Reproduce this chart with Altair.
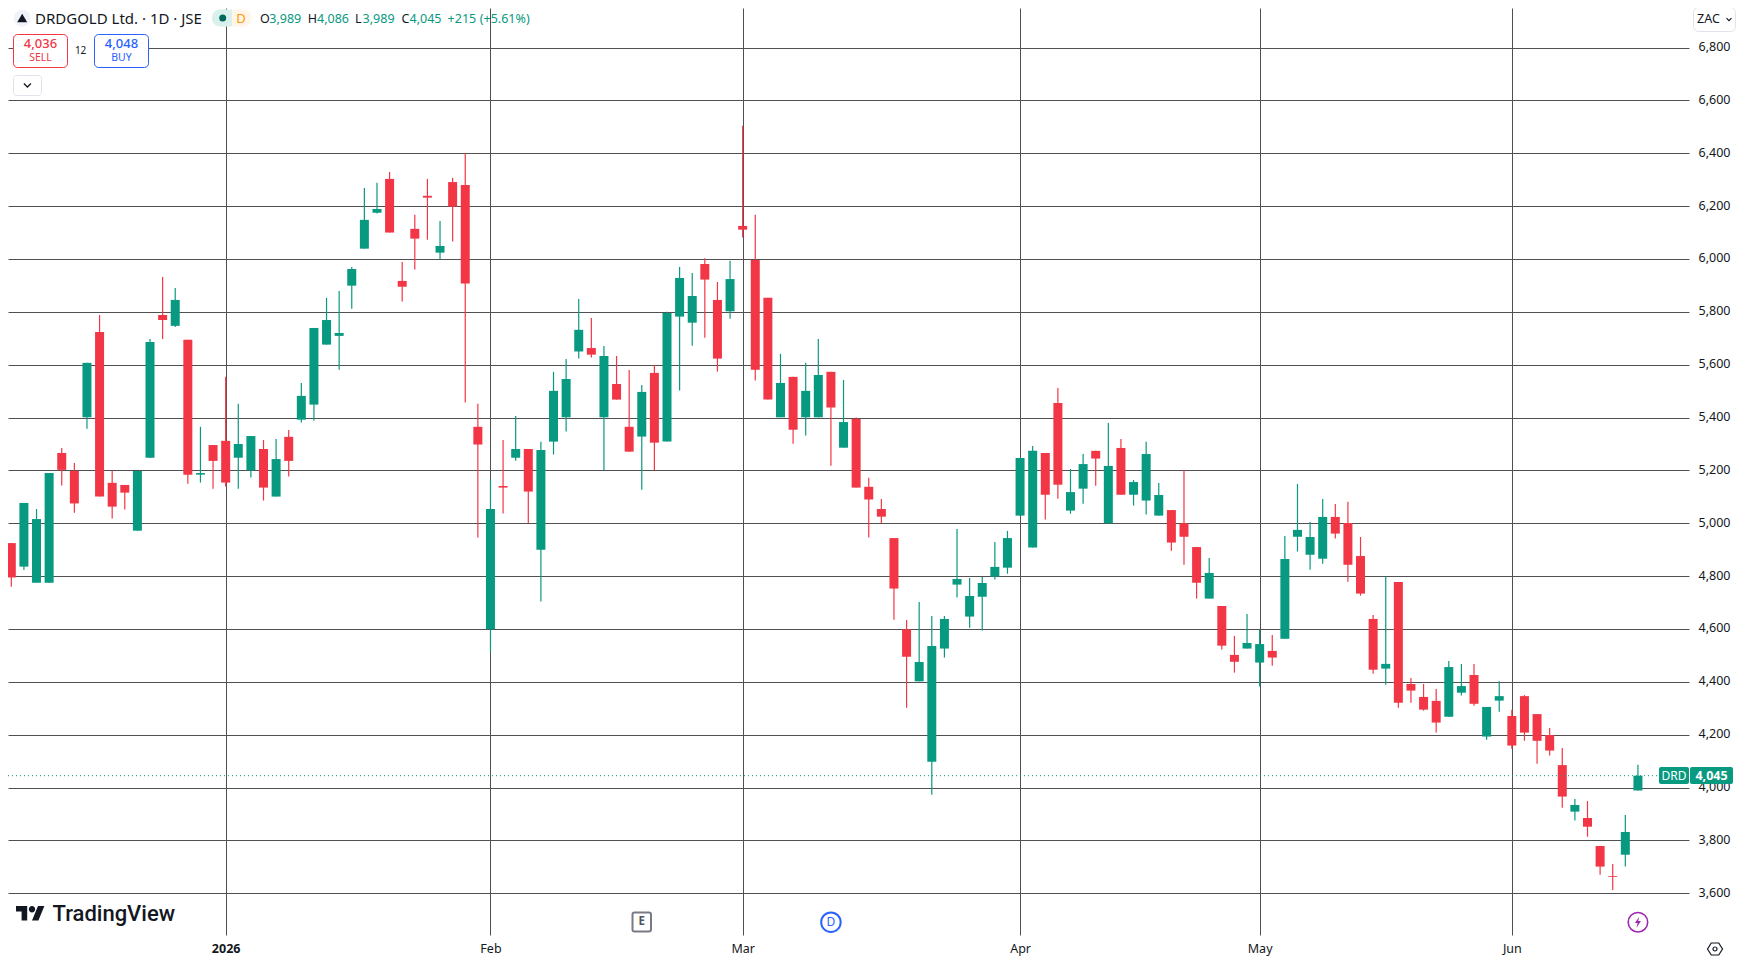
import altair as alt
import pandas as pd

opens = [4925,4836,4775,4775,5266,5198,5401,5724,5153,5145,4972,5248,5788,5747,5694,5184,5296,5312,5248,5200,5281,5101,5327,5392,5449,5676,5709,5899,6039,6175,6303,5917,6114,6239,6024,6291,6280,5365,4599,5141,5248,5281,4900,5309,5401,5650,5663,5401,5527,5365,5328,5569,5309,5782,5759,5981,5845,5802,6125,5996,5853,5401,5554,5401,5401,5573,5286,5395,5138,5054,4944,4599,4402,4098,4526,4768,4647,4722,4798,4832,5029,4908,5266,5455,5048,5131,5274,5000,5285,5108,5086,5029,5050,5000,4910,4715,4687,4502,4526,4473,4517,4563,4949,4881,4866,5024,5001,4876,4638,4450,4778,4392,4343,4328,4268,4359,4426,4193,4329,4271,4346,4278,4199,4085,3909,3885,3779,3665,3746,3989]
highs = [4925,5077,5054,5190,5285,5228,5607,5788,5200,5145,5198,5697,5932,5890,5694,5365,5296,5554,5452,5330,5315,5319,5353,5531,5739,5853,5879,5970,6269,6288,6329,5989,6167,6303,6144,6307,6400,5452,5167,5315,5406,5281,5308,5573,5622,5849,5777,5671,5633,5580,5523,5599,5800,5970,5947,6003,5913,5993,6504,6167,5853,5641,5554,5607,5697,5573,5542,5400,5172,5092,4944,4634,4702,4649,4649,4978,4793,4797,4929,4971,5247,5292,5266,5512,5205,5262,5274,5379,5319,5164,5308,5152,5050,5202,4910,4869,4687,4574,4657,4596,4577,4952,5149,5005,5092,5073,5081,4948,4653,4799,4778,4415,4392,4373,4479,4468,4468,4305,4402,4294,4350,4278,4225,4150,3957,3949,3779,3711,3896,4086]
lows = [4760,4823,4775,4775,5143,5040,5358,5101,5018,5052,4972,5248,5697,5743,5150,5154,5131,5139,5131,5173,5086,5101,5177,5381,5388,5676,5581,5812,6039,6172,6100,5839,5960,6073,5998,6066,5457,4946,4514,5037,5237,5000,4704,5260,5347,5623,5627,5202,5468,5271,5127,5200,5309,5502,5672,5702,5574,5774,6081,5540,5468,5401,5301,5332,5401,5218,5286,5135,4946,5001,4635,4302,4402,3973,4492,4719,4605,4594,4787,4809,5029,4908,5014,5093,5036,5074,5142,5000,5108,5067,5033,5029,4896,4843,4715,4715,4522,4435,4526,4382,4461,4563,4893,4824,4847,4942,4779,4726,4431,4389,4302,4321,4291,4208,4268,4348,4310,4181,4287,4147,4177,4090,4121,3924,3875,3814,3670,3612,3701,3989]
closes = [4795,5077,5016,5190,5202,5075,5607,5101,5063,5116,5198,5686,5769,5845,5184,5190,5236,5154,5300,5330,5135,5243,5236,5482,5739,5769,5720,5962,6148,6189,6100,5895,6077,6232,6049,6198,5907,5298,5054,5135,5281,5120,5277,5501,5546,5732,5638,5633,5468,5271,5497,5305,5796,5928,5860,5922,5623,5924,6111,5581,5468,5531,5354,5501,5561,5438,5383,5135,5090,5025,4753,4495,4475,4536,4638,4789,4725,4774,4835,4944,5247,5274,5108,5146,5118,5224,5245,5217,5108,5156,5262,5107,4927,4949,4775,4812,4537,4476,4547,4543,4492,4865,4975,4948,5024,4961,4843,4734,4446,4468,4321,4367,4295,4246,4456,4384,4317,4305,4346,4159,4208,4177,4140,3966,3934,3852,3701,3662,3832,4045]

month_positions = [17, 38, 58, 80, 99, 119]
month_labels = ["2026", "Feb", "Mar", "Apr", "May", "Jun"]
price_ticks = [3600,3800,4000,4200,4400,4600,4800,5000,5200,5400,5600,5800,6000,6200,6400,6600,6800]
last_price = [4045]
event_bars = [50, 65, 129]

UP, DOWN, BLUE, PURPLE, INK, GRID = "#089981", "#F23645", "#2962FF", "#9C27B0", "#131722", "#505050"
FONT = "Noto Sans"

df = pd.DataFrame({"i": range(len(opens)), "o": opens, "h": highs, "l": lows, "c": closes})
df["dir"] = ["up" if c >= o else "down" for o, c in zip(opens, closes)]

x_scale = alt.Scale(domain=[-0.262, 133.05], nice=False, zero=False, padding=0)
y_scale = alt.Scale(domain=[3442.2, 6949.6], nice=False, zero=False, padding=0)
color = alt.Color("dir:N", scale=alt.Scale(domain=["up", "down"], range=[UP, DOWN]), legend=None)
x_axis = alt.Axis(values=month_positions, grid=True, gridColor=GRID, gridWidth=1, gridOpacity=1,
                  domain=False, ticks=False, labelPadding=7, labelFont=FONT, labelFontSize=12.5,
                  labelColor=INK, labelFlush=False, labelOverlap=False,
                  labelFontWeight={"condition": {"test": "datum.value == 17", "value": "bold"}, "value": "normal"},
                  labelExpr="%s[indexof(%s, datum.value)]" % (month_labels, month_positions))
y_axis = alt.Axis(values=price_ticks, orient="right", grid=True, gridColor=GRID, gridWidth=1, gridOpacity=1,
                  domain=False, ticks=False, format=",d", labelPadding=9, labelFont=FONT, labelFontSize=12.5,
                  labelColor=INK, labelOffset=-1, labelFlush=False, labelOverlap=False)
x_enc = alt.X("i:Q", title=None, scale=x_scale, axis=x_axis)

wicks = alt.Chart(df).mark_rule(strokeWidth=1.2).encode(
    x=x_enc, y=alt.Y("l:Q", title=None, scale=y_scale, axis=y_axis), y2="h:Q", color=color)
bodies = alt.Chart(df).transform_calculate(top="max(datum.o, datum.c)", bot="min(datum.o, datum.c)").mark_bar(size=9).encode(
    x=x_enc, y=alt.Y("bot:Q", scale=y_scale, axis=y_axis, title=None), y2="top:Q", color=color)
price_line = alt.Chart(pd.DataFrame({"p": last_price})).mark_rule(color=UP, strokeWidth=1, strokeDash=[1, 3]).encode(
    y=alt.Y("p:Q", scale=y_scale, axis=y_axis, title=None))

one = alt.Data(values=[{"a": 1}])
OX, OY = 8, 8  # page origin of the plot area


def text(px, py, s, size=13, col=INK, align="left", weight=400, font=FONT):
    return alt.Chart(alt.Data(values=[{"t": s}])).mark_text(
        align=align, baseline="middle", fontSize=size, color=col, fontWeight=weight, font=font
    ).encode(x=alt.value(px - OX), y=alt.value(py - OY), text="t:N")


def box(x0, x1, y0, y1, fill="#ffffff", stroke=None, sw=1, r=0):
    kw = dict(fill=fill, cornerRadius=r, opacity=1)
    if stroke:
        kw.update(stroke=stroke, strokeWidth=sw)
    return alt.Chart(one).mark_rect(**kw).encode(x=alt.value(x0 - OX), x2=alt.value(x1 - OX),
                                                 y=alt.value(y0 - OY), y2=alt.value(y1 - OY))


def sym(px, py, shape, diameter, fill=None, stroke=None, sw=1):
    kw = dict(shape=shape, size=diameter ** 2, opacity=1)
    if fill:
        kw.update(filled=True, fill=fill, strokeWidth=0)
    else:
        kw.update(filled=False, stroke=stroke, strokeWidth=sw, fillOpacity=0)
    return alt.Chart(one).mark_point(**kw).encode(x=alt.value(px - OX), y=alt.value(py - OY))


def event_sym(idx, py, shape, diameter, **k):
    kw = dict(shape=shape, size=diameter ** 2, opacity=1)
    if "fill" in k:
        kw.update(filled=True, fill=k["fill"], strokeWidth=0)
    else:
        kw.update(filled=False, stroke=k["stroke"], strokeWidth=k.get("sw", 1), fillOpacity=0)
    return alt.Chart(alt.Data(values=[{"i": idx}])).mark_point(**kw).encode(
        x=alt.X("i:Q", scale=x_scale, axis=x_axis, title=None), y=alt.value(py - OY))


def event_text(idx, py, s, size, col, weight=400):
    return alt.Chart(alt.Data(values=[{"i": idx, "t": s}])).mark_text(
        align="center", baseline="middle", fontSize=size, color=col, fontWeight=weight, font=FONT
    ).encode(x=alt.X("i:Q", scale=x_scale, axis=x_axis, title=None), y=alt.value(py - OY), text="t:N")


CHEVRON = "M-1,-0.5 L0,0.5 L1,-0.5"
TV_LOGO = ("M-0.222,0.5 L-0.611,0.5 L-0.611,-0.111 L-1,-0.111 L-1,-0.5 L-0.222,-0.5 Z "
           "M0.556,0.5 L0.111,0.5 L0.528,-0.5 L0.972,-0.5 Z "
           "M-0.111,-0.278 A0.222,0.222 0 1 0 0.333,-0.278 A0.222,0.222 0 1 0 -0.111,-0.278 Z")
BOLT = "M0.25,-1 L-0.55,0.15 L-0.05,0.15 L-0.25,1 L0.55,-0.2 L0.05,-0.2 Z"
HEX = "M-1,0 L-0.5,-0.8 L0.5,-0.8 L1,0 L0.5,0.8 L-0.5,0.8 Z"

overlay = [
    # header
    sym(22.2, 18.3, "circle", 17, fill="#F0F3FA"),
    sym(22.2, 18, "triangle-up", 10, fill=INK),
    text(35, 18.5, "DRDGOLD Ltd. · 1D · JSE", 15),
    box(212, 232, 9.5, 26.5, fill="#DAF0EC", r=8),
    box(222, 232, 9.5, 26.5, fill="#DAF0EC"),
    box(232, 251.5, 9.5, 26.5, fill="#FFF5E8", r=8),
    box(232, 242, 9.5, 26.5, fill="#FFF5E8"),
    sym(222.7, 18, "circle", 7, fill="#00695C"),
    text(241, 18.5, "D", 13, "#FF9800", "center"),
    text(260, 18.5, "O", 12.5), text(269.3, 18.5, "3,989", 12.5, UP),
    text(307.8, 18.5, "H", 12.5), text(317, 18.5, "4,086", 12.5, UP),
    text(355, 18.5, "L", 12.5), text(362.6, 18.5, "3,989", 12.5, UP),
    text(401.4, 18.5, "C", 12.5), text(409.5, 18.5, "4,045", 12.5, UP),
    text(447.6, 18.5, "+215", 12.5, UP), text(479.8, 18.5, "(+5.61%)", 12.5, UP),
    # trading buttons
    box(68, 94, 44, 58),
    box(13.5, 67.5, 34.5, 67.5, stroke=DOWN, r=4),
    box(94.5, 148.5, 34.5, 67.5, stroke=BLUE, r=4),
    text(40.5, 44, "4,036", 13, DOWN, "center", 500),
    text(40.5, 58, "SELL", 10.5, DOWN, "center"),
    text(121.5, 44, "4,048", 13, BLUE, "center", 500),
    text(121.5, 58, "BUY", 10.5, BLUE, "center"),
    text(80.6, 50.7, "12", 10, INK, "center"),
    box(13.5, 41.5, 75.5, 95.5, stroke="#E0E3EB", r=3),
    sym(27.4, 85.3, CHEVRON, 7, stroke=INK, sw=1.3),
    # currency
    box(1693.5, 1735.5, 7.5, 31.5, stroke="#E0E3EB", r=5),
    text(1697, 19, "ZAC", 12.5),
    sym(1729, 19.3, CHEVRON, 5, stroke=INK, sw=1.2),
    # last price tag
    box(1659, 1689, 767, 784, fill=UP, r=2),
    box(1690, 1733, 767, 784, fill=UP, r=2),
    text(1674, 775.5, "DRD", 12, "#ffffff", "center"),
    text(1711.5, 775.5, "4,045", 12.5, "#ffffff", "center", "bold"),
    # branding
    sym(30.4, 913.2, TV_LOGO, 28.8, fill=INK),
    text(52.5, 914, "TradingView", 22, INK, weight=500, font="Roboto"),
    # events
    box(632.5, 651, 912.5, 931.5, stroke="#787B86", sw=2, r=2),
    event_text(event_bars[0], 922, "E", 11.5, "#50535E", "bold"),
    event_sym(event_bars[1], 922.2, "circle", 19.5, stroke=BLUE, sw=2),
    event_text(event_bars[1], 922.2, "D", 12, BLUE),
    event_sym(event_bars[2], 922.2, "circle", 19.5, stroke=PURPLE, sw=1.6),
    event_sym(event_bars[2], 922.2, BOLT, 11, fill=PURPLE),
    # settings
    sym(1715, 949, HEX, 15, stroke=INK, sw=1.2),
    sym(1715, 949, "circle", 4, stroke=INK, sw=1.2),
]

chart = alt.layer(wicks, bodies, price_line, *overlay).resolve_scale(color="independent").properties(
    width=1681, height=927,
    autosize=alt.AutoSizeParams(type="none"),
    padding={"left": 0, "top": 0, "right": 47, "bottom": 21},
    background="#ffffff",
).configure_view(stroke=None)

chart.save("out.html", embed_options={"renderer": "svg", "actions": False})
